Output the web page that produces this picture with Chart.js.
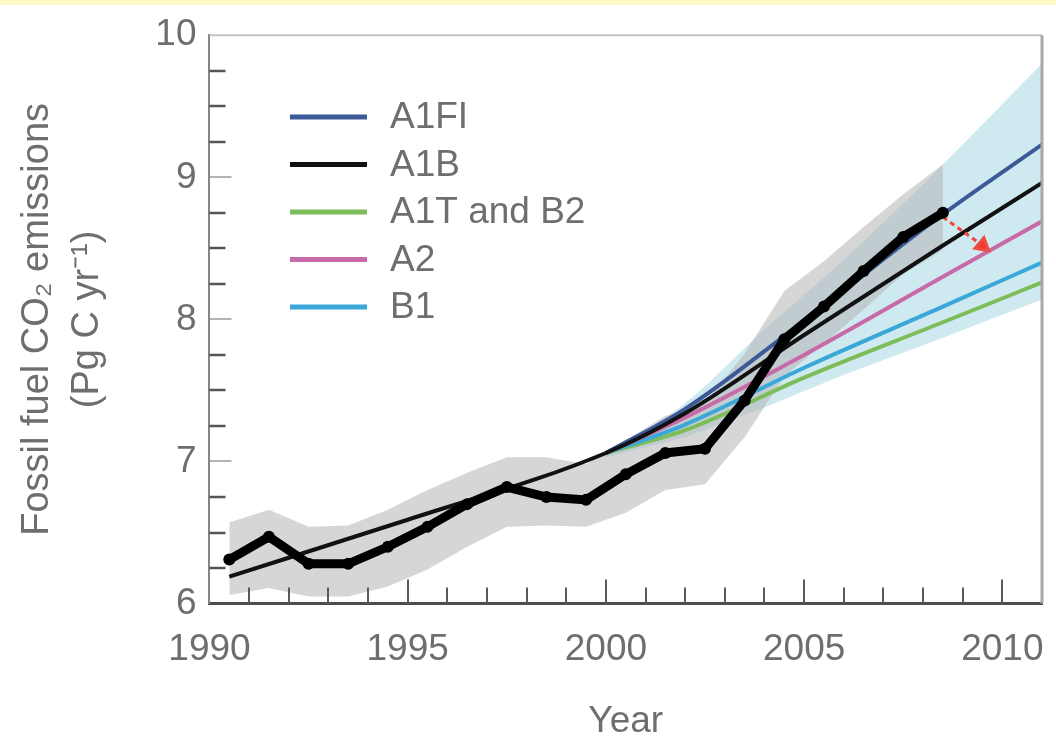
<!DOCTYPE html>
<html>
<head>
<meta charset="utf-8">
<title>Fossil fuel CO2 emissions vs IPCC scenarios</title>
<script src="https://cdn.jsdelivr.net/npm/chart.js@4.4.0/dist/chart.umd.min.js"></script>
<style>
  html, body { margin: 0; padding: 0; background: #ffffff; }
  #wrap { width: 1056px; height: 740px; }
</style>
</head>
<body>
<div id="wrap"><canvas id="emissions" width="1056" height="740"></canvas></div>
<script>
// observed emissions (annual, plotted mid-year) and uncertainty band
const obsYears = [1990.5, 1991.5, 1992.5, 1993.5, 1994.5, 1995.5, 1996.5, 1997.5, 1998.5, 1999.5,
  2000.5, 2001.5, 2002.5, 2003.5, 2004.5, 2005.5, 2006.5, 2007.5, 2008.5];
const obsValues = [6.31, 6.47, 6.28, 6.28, 6.40, 6.54, 6.70, 6.82, 6.75, 6.73,
  6.91, 7.06, 7.09, 7.43, 7.86, 8.09, 8.34, 8.58, 8.75];
const obsUpper = [6.57, 6.66, 6.54, 6.55, 6.66, 6.80, 6.92, 7.03, 7.03, 6.98,
  7.15, 7.32, 7.41, 7.76, 8.20, 8.41, 8.65, 8.88, 9.09];
const obsLower = [6.06, 6.11, 6.05, 6.05, 6.12, 6.24, 6.40, 6.54, 6.55, 6.54,
  6.64, 6.80, 6.84, 7.17, 7.60, 7.83, 8.07, 8.32, 8.49];

// projection arrow
const projYears = [2008.5, 2009.5];
const projValues = [8.72, 8.52];

// SRES scenario range
const rangeYears = [2000, 2002, 2004, 2006, 2008.5, 2011];
const rangeUpper = [7.06, 7.41, 7.93, 8.42, 9.09, 9.80];
const rangeLower = [7.03, 7.17, 7.38, 7.61, 7.87, 8.14];

// scenario lines
const scenarioNames = ["A1FI", "A1B", "A1T and B2", "A2", "B1"];
const scenarioColors = ["#3d5a98", "#111111", "#7cbd5a", "#c96aa8", "#3aa7d9"];
const a1bYears = [1990.5, 1995, 2000, 2002, 2005, 2008.5, 2011];
const a1bValues = [6.19, 6.59, 7.06, 7.34, 7.89, 8.52, 8.96];
const scenYears = [2000, 2002, 2005, 2008.5, 2011];
const a1fiValues = [7.06, 7.37, 7.99, 8.74, 9.23];
const a1tb2Values = [7.06, 7.22, 7.59, 7.98, 8.26];
const a2Values = [7.06, 7.31, 7.75, 8.30, 8.69];
const b1Values = [7.06, 7.26, 7.66, 8.09, 8.40];

const xTickYears = [1990, 1995, 2000, 2005, 2010];
const yTickValues = [6, 7, 8, 9, 10];

const pts = (xs, ys) => xs.map((x, i) => ({ x: x, y: ys[i] }));

const FONT = "'Liberation Sans', Arial, sans-serif";
const TEXT = "#6e6e6e";

const frame = {
  id: "frame",
  beforeDraw(chart) {
    const { ctx, width, height } = chart;
    ctx.save();
    ctx.fillStyle = "#ffffff";
    ctx.fillRect(0, 0, width, height);
    ctx.fillStyle = "#fdf8c6";
    ctx.fillRect(0, 0, width, 5);
    ctx.restore();
  },
  afterDatasetsDraw(chart) {
    const { ctx, chartArea: a, scales: { x, y } } = chart;
    ctx.save();
    ctx.lineCap = "butt";
    // top and right frame
    ctx.strokeStyle = "#c2c2c2";
    ctx.lineWidth = 2;
    ctx.beginPath();
    ctx.moveTo(a.left, a.top);
    ctx.lineTo(a.right, a.top);
    ctx.stroke();
    ctx.strokeStyle = "#a8a8a8";
    ctx.lineWidth = 3;
    ctx.beginPath();
    ctx.moveTo(a.right, a.top);
    ctx.lineTo(a.right, a.bottom);
    ctx.stroke();

    // inward ticks on the y axis, every 0.25
    for (let v = y.min + 0.25; v < y.max; v += 0.25) {
      const py = Math.round(y.getPixelForValue(v));
      const major = Math.abs(v - Math.round(v)) < 1e-6;
      ctx.strokeStyle = major ? "#9a9a9a" : "#555555";
      ctx.lineWidth = major ? 1.5 : 2.5;
      ctx.beginPath();
      ctx.moveTo(a.left, py);
      ctx.lineTo(a.left + (major ? 22 : 16), py);
      ctx.stroke();
    }
    // inward ticks on the x axis, every year
    for (let yr = x.min + 1; yr < x.max; yr++) {
      const px = Math.round(x.getPixelForValue(yr));
      const major = yr % 5 === 0;
      ctx.strokeStyle = "#5a5a5a";
      ctx.lineWidth = 2;
      ctx.beginPath();
      ctx.moveTo(px, a.bottom);
      ctx.lineTo(px, a.bottom - (major ? 24 : 16));
      ctx.stroke();
    }

    // scenario legend
    ctx.font = "37px " + FONT;
    ctx.textBaseline = "alphabetic";
    ctx.textAlign = "left";
    scenarioNames.forEach((name, i) => {
      const yy = 117 + i * 47.5;
      ctx.strokeStyle = scenarioColors[i];
      ctx.lineWidth = 5;
      ctx.beginPath();
      ctx.moveTo(290, yy);
      ctx.lineTo(367, yy);
      ctx.stroke();
      ctx.fillStyle = TEXT;
      ctx.fillText(name, 390, yy + 11);
    });
    ctx.restore();
  },
};

const lineDefaults = {
  pointRadius: 0,
  tension: 0,
  fill: false,
};

new Chart(document.getElementById("emissions"), {
  type: "line",
  data: {
    datasets: [
      // 0, 1: scenario range
      { ...lineDefaults, label: "range low", data: pts(rangeYears, rangeLower), borderWidth: 0, borderColor: "rgba(0,0,0,0)", order: 20 },
      { ...lineDefaults, label: "range high", data: pts(rangeYears, rangeUpper), borderWidth: 0, borderColor: "rgba(0,0,0,0)",
        fill: "-1", backgroundColor: "rgb(206,233,239)", cubicInterpolationMode: "monotone", order: 19 },
      // 2, 3: observation uncertainty
      { ...lineDefaults, label: "obs low", data: pts(obsYears, obsLower), borderWidth: 0, borderColor: "rgba(0,0,0,0)", order: 18 },
      { ...lineDefaults, label: "obs high", data: pts(obsYears, obsUpper), borderWidth: 0, borderColor: "rgba(0,0,0,0)",
        fill: "-1", backgroundColor: "rgba(180,180,180,0.55)", order: 17 },
      // scenarios
      { ...lineDefaults, label: scenarioNames[2], data: pts(scenYears, a1tb2Values), borderColor: scenarioColors[2], borderWidth: 4, cubicInterpolationMode: "monotone", order: 10 },
      { ...lineDefaults, label: scenarioNames[4], data: pts(scenYears, b1Values), borderColor: scenarioColors[4], borderWidth: 4, cubicInterpolationMode: "monotone", order: 9 },
      { ...lineDefaults, label: scenarioNames[3], data: pts(scenYears, a2Values), borderColor: scenarioColors[3], borderWidth: 4, cubicInterpolationMode: "monotone", order: 8 },
      { ...lineDefaults, label: scenarioNames[0], data: pts(scenYears, a1fiValues), borderColor: scenarioColors[0], borderWidth: 4, cubicInterpolationMode: "monotone", order: 7 },
      { ...lineDefaults, label: scenarioNames[1], data: pts(a1bYears, a1bValues), borderColor: scenarioColors[1], borderWidth: 4, cubicInterpolationMode: "monotone", order: 6 },
      // projection
      { label: "projection", data: pts(projYears, projValues), borderColor: "#ee4a40", backgroundColor: "#ee3a30",
        borderWidth: 3, borderDash: [5, 4], pointRadius: [0, 8], pointStyle: "triangle", rotation: 130, order: 2 },
      // observations
      { label: "observed", data: pts(obsYears, obsValues), borderColor: "#000000", backgroundColor: "#000000",
        borderWidth: 9, pointRadius: 6, pointBackgroundColor: "#000000", pointBorderWidth: 0, order: 1 },
    ],
  },
  options: {
    responsive: false,
    animation: false,
    devicePixelRatio: 1,
    layout: { padding: { top: 34, right: 14, bottom: 0, left: 0 } },
    plugins: {
      legend: { display: false },
      tooltip: { enabled: false },
    },
    scales: {
      x: {
        type: "linear",
        min: 1990,
        max: 2011,
        afterBuildTicks: (axis) => { axis.ticks = xTickYears.map((v) => ({ value: v })); },
        afterFit: (axis) => { axis.paddingRight = 0; },
        grid: { display: false, drawTicks: false },
        border: { display: true, color: "#4d4d4d", width: 3 },
        ticks: {
          color: TEXT, padding: 24, maxRotation: 0, autoSkip: false,
          font: { family: FONT, size: 37 },
          callback: (v) => String(v),
        },
        title: {
          display: true, text: "Year", color: TEXT,
          font: { family: FONT, size: 37, lineHeight: 1.0 },
          padding: { top: 7, bottom: 0 },
        },
      },
      y: {
        type: "linear",
        min: 6,
        max: 10,
        afterBuildTicks: (axis) => { axis.ticks = yTickValues.map((v) => ({ value: v })); },
        grid: { display: false, drawTicks: false },
        border: { display: true, color: "#858585", width: 2 },
        ticks: {
          color: TEXT, padding: 13,
          font: { family: FONT, size: 37 },
          callback: (v) => String(v),
        },
        title: {
          display: true, text: ["Fossil fuel CO\u2082 emissions", "(Pg C yr\u207B\u00B9)"], color: TEXT,
          font: { family: FONT, size: 38, lineHeight: 1.32 },
          padding: { top: 12, bottom: 30 },
        },
      },
    },
  },
  plugins: [frame],
});
</script>
</body>
</html>
